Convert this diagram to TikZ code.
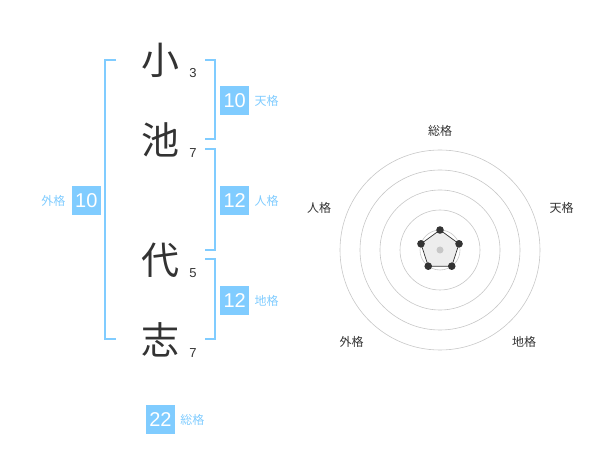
\documentclass[tikz,border=0pt]{standalone}
\usepackage{fontspec}
\setmainfont{Liberation Sans}
\newfontfamily\jpfont{Noto Sans CJK JP}
\usetikzlibrary{positioning}
\definecolor{kakublue}{HTML}{80CCFF}
\definecolor{inkgrey}{HTML}{333333}
\begin{document}
\begin{tikzpicture}[x=1pt, y=-1pt,
    kanji/.style={font=\jpfont\fontsize{38}{38}\selectfont, text=inkgrey, inner sep=0pt},
    strokes/.style={font=\fontsize{13}{13}\selectfont, text=inkgrey, inner sep=0pt},
    kakubox/.style={fill=kakublue, text=white, font=\fontsize{20}{20}\selectfont, minimum width=29pt, minimum height=29pt, inner sep=0pt},
    kakulabel/.style={font=\jpfont\fontsize{12}{12}\selectfont, text=kakublue, inner sep=0pt},
    bracket/.style={draw=kakublue, line width=2pt},
    ring/.style={draw=black!22, line width=0.6pt},
    axislabel/.style={font=\jpfont\fontsize{12}{12}\selectfont, text=inkgrey, inner sep=0pt}]

    % Page size
    \useasboundingbox (0,0) rectangle (600,470);

    % Name characters and stroke counts
    \node[kanji] (c1) at (160,60) {小};
    \node[kanji] (c2) at (160,140) {池};
    \node[kanji] (c3) at (160,260) {代};
    \node[kanji] (c4) at (160,340) {志};
    \node[strokes] (s1) at (193,73) {3};
    \node[strokes] (s2) at (193,153) {7};
    \node[strokes] (s3) at (193,273) {5};
    \node[strokes] (s4) at (193,353) {7};

    % Brackets
    \draw[bracket] (116,60) -- (105,60) -- (105,339.5) -- (116,339.5);
    \draw[bracket] (205,60) -- (214.5,60) -- (214.5,139.5) -- (205,139.5);
    \draw[bracket] (205,149.5) -- (214.5,149.5) -- (214.5,250) -- (205,250);
    \draw[bracket] (205,259.5) -- (214.5,259.5) -- (214.5,339.5) -- (205,339.5);

    % Boxes with values
    \node[kakubox] (ten) at (234.7,100.5) {10};
    \node[kakulabel, right=5pt of ten] (tenl) {天格};
    \node[kakubox] (jin) at (234.7,200.5) {12};
    \node[kakulabel, right=5pt of jin] (jinl) {人格};
    \node[kakubox] (chi) at (234.7,300.5) {12};
    \node[kakulabel, right=5pt of chi] (chil) {地格};
    \node[kakubox] (gai) at (86.3,200.5) {10};
    \node[kakulabel, left=6pt of gai] (gail) {外格};
    \node[kakubox] (sou) at (160.5,419.5) {22};
    \node[kakulabel, right=5pt of sou] (soul) {総格};

    % Radar chart
    \coordinate (rc) at (440,250);
    \foreach \r in {20,40,...,100}
        \draw[ring] (rc) circle (\r pt);
    \foreach \a [count=\i] in {90,18,-54,-126,162}
        \coordinate (p\i) at ([shift={(\a:20pt)}]rc);
    \filldraw[fill=black!7, draw=inkgrey, line width=0.7pt] (p1) -- (p2) -- (p3) -- (p4) -- (p5) -- cycle;
    \fill[black!22] (rc) circle (3.5pt);
    \foreach \i in {1,...,5}
        \fill[inkgrey] (p\i) circle (3.8pt);

    % Axis labels
    \node[axislabel] (ax1) at (440,130.7) {総格};
    \node[axislabel] (ax2) at (561.7,208.3) {天格};
    \node[axislabel] (ax3) at (524,341.7) {地格};
    \node[axislabel] (ax4) at (351.7,341.7) {外格};
    \node[axislabel] (ax5) at (319,208.3) {人格};

\end{tikzpicture}
\end{document}
